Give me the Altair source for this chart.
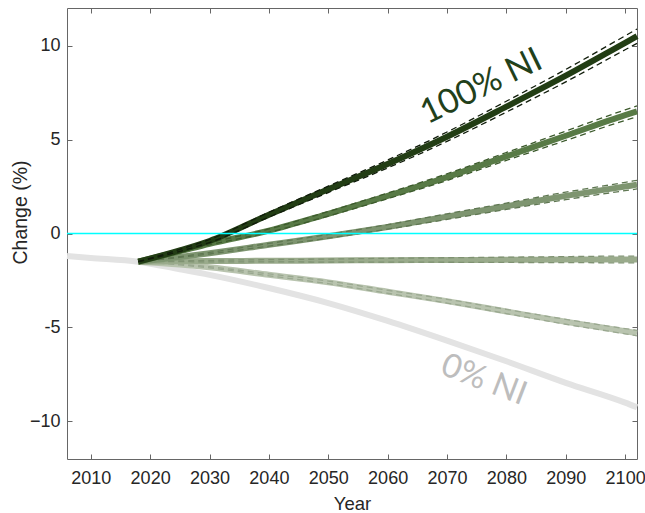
import altair as alt
import pandas as pd

# ---- data ----
years = [2018, 2025, 2030, 2040, 2050, 2060, 2070, 2080, 2090, 2100, 2102]
years_0 = [2006, 2010, 2018, 2025, 2030, 2040, 2050, 2060, 2070, 2080, 2090, 2100, 2102]

ni0 = [-1.2, -1.3, -1.5, -1.9, -2.2, -2.9, -3.7, -4.65, -5.7, -6.8, -7.95, -9.0, -9.25]

ni20 = [-1.5, -1.65, -1.8, -2.2, -2.6, -3.1, -3.6, -4.15, -4.7, -5.2, -5.3]
ni20_hi = [-1.5, -1.63, -1.77, -2.15, -2.53, -3.02, -3.5, -4.04, -4.57, -5.06, -5.15]
ni20_lo = [-1.5, -1.67, -1.83, -2.25, -2.67, -3.18, -3.7, -4.26, -4.83, -5.34, -5.45]

ni40 = [-1.5, -1.48, -1.47, -1.45, -1.44, -1.42, -1.41, -1.40, -1.39, -1.38, -1.38]
ni40_hi = [-1.5, -1.46, -1.43, -1.39, -1.36, -1.32, -1.29, -1.26, -1.23, -1.20, -1.20]
ni40_lo = [-1.5, -1.50, -1.51, -1.51, -1.52, -1.52, -1.53, -1.54, -1.55, -1.56, -1.56]

ni60 = [-1.5, -1.25, -1.05, -0.6, -0.15, 0.35, 0.9, 1.45, 2.0, 2.5, 2.6]
ni60_hi = [-1.5, -1.23, -1.01, -0.53, -0.05, 0.47, 1.05, 1.62, 2.2, 2.72, 2.83]
ni60_lo = [-1.5, -1.27, -1.09, -0.67, -0.25, 0.23, 0.75, 1.28, 1.8, 2.28, 2.37]

ni80 = [-1.5, -0.95, -0.55, 0.15, 1.05, 2.0, 3.0, 4.1, 5.2, 6.3, 6.5]
ni80_hi = [-1.5, -0.92, -0.50, 0.24, 1.17, 2.15, 3.18, 4.31, 5.45, 6.58, 6.79]
ni80_lo = [-1.5, -0.98, -0.60, 0.06, 0.93, 1.85, 2.82, 3.89, 4.95, 6.02, 6.21]

ni100 = [-1.5, -0.9, -0.4, 1.0, 2.35, 3.7, 5.15, 6.75, 8.4, 10.15, 10.5]
ni100_hi = [-1.5, -0.85, -0.32, 1.13, 2.52, 3.91, 5.40, 7.04, 8.73, 10.52, 10.88]
ni100_lo = [-1.5, -0.95, -0.48, 0.87, 2.18, 3.49, 4.90, 6.46, 8.07, 9.78, 10.12]

x_ticks = [2010, 2020, 2030, 2040, 2050, 2060, 2070, 2080, 2090, 2100]
y_ticks = [-10, -5, 0, 5, 10]

labels = ["100% NI", "0% NI"]
label_years = [2075.8, 2076.2]
label_values = [7.8, -7.8]

main_colors = ["#e3e3e3", "#b9c4af", "#9aab8c", "#7e9570", "#587a46", "#223d14"]
dash_colors = ["#9aa890", "#7f9272", "#5f7752", "#3c5a2c", "#101c0a"]

# ---- chart ----
xscale = alt.Scale(domain=[2006, 2102], nice=False, zero=False)
yscale = alt.Scale(domain=[-12, 12], nice=False, zero=False)

FONT = "Liberation Sans"

x_axis = alt.Axis(orient="bottom", values=x_ticks, format="d", offset=-5, tickSize=5,
                  domain=False, labelPadding=10, labelFontSize=18, title="Year",
                  titleFontSize=18.5, titleY=49, titleBaseline="middle")
y_axis = alt.Axis(orient="left", values=y_ticks, offset=-5, tickSize=5, domain=False,
                  labelPadding=7, labelFontSize=18, title="Change (%)",
                  titleFontSize=19.5, titleX=-52, titleY=204, titleBaseline="middle",
                  titleAngle=270, titleAlign="center",
                  labelExpr="datum.value == -5 ? '-5' : datum.label")
x_axis_top = alt.Axis(orient="top", values=x_ticks, offset=-5, tickSize=5, domain=False,
                      labels=False, title=None)
y_axis_right = alt.Axis(orient="right", values=y_ticks, offset=-5, tickSize=5, domain=False,
                        labels=False, title=None)


def frame(xs, vs):
    return pd.DataFrame({"year": xs, "value": vs})


layers = []

# gray 0% line (carries the main axes)
layers.append(
    alt.Chart(frame(years_0, ni0)).mark_line(color=main_colors[0], strokeWidth=6, interpolate="monotone")
    .encode(x=alt.X("year:Q", scale=xscale, axis=x_axis),
            y=alt.Y("value:Q", scale=yscale, axis=y_axis))
)

series = [
    (ni20, ni20_hi, ni20_lo),
    (ni40, ni40_hi, ni40_lo),
    (ni60, ni60_hi, ni60_lo),
    (ni80, ni80_hi, ni80_lo),
    (ni100, ni100_hi, ni100_lo),
]

for i, (mid, hi, lo) in enumerate(series):
    layers.append(
        alt.Chart(frame(years, mid)).mark_line(color=main_colors[i + 1], strokeWidth=6,
                                               interpolate="monotone")
        .encode(x=alt.X("year:Q", scale=xscale, axis=None),
                y=alt.Y("value:Q", scale=yscale, axis=None))
    )
    for band in (hi, lo):
        layers.append(
            alt.Chart(frame(years, band)).mark_line(color=dash_colors[i], strokeWidth=1.3,
                                                    strokeDash=[6, 4], interpolate="monotone")
            .encode(x=alt.X("year:Q", scale=xscale, axis=None),
                    y=alt.Y("value:Q", scale=yscale, axis=None))
        )

# cyan zero line
layers.append(
    alt.Chart(pd.DataFrame({"value": [0]})).mark_rule(color="#00ffff", strokeWidth=1.5)
    .encode(y=alt.Y("value:Q", scale=yscale, axis=None))
)

# labels
lab = pd.DataFrame({"label": labels, "year": label_years, "value": label_values})
layers.append(
    alt.Chart(lab.iloc[[0]]).mark_text(angle=334, fontSize=34, font="Lato", color="#22401a")
    .encode(x=alt.X("year:Q", scale=xscale, axis=None),
            y=alt.Y("value:Q", scale=yscale, axis=None), text="label:N")
)
layers.append(
    alt.Chart(lab.iloc[[1]]).mark_text(angle=21, fontSize=33, font="Lato", color="#bdbdbd")
    .encode(x=alt.X("year:Q", scale=xscale, axis=None),
            y=alt.Y("value:Q", scale=yscale, axis=None), text="label:N")
)

# mirrored ticks on top / right
layers.append(
    alt.Chart(frame(years_0, ni0)).mark_line(opacity=0)
    .encode(x=alt.X("year:Q", scale=xscale, axis=x_axis_top),
            y=alt.Y("value:Q", scale=yscale, axis=y_axis_right))
)

chart = (
    alt.layer(*layers)
    .resolve_axis(x="independent", y="independent")
    .properties(width=570, height=451,
                autosize=alt.AutoSizeParams(type="none"),
                padding={"left": 67, "top": 8, "right": 8, "bottom": 54})
    .configure_view(stroke="#666666", strokeWidth=1)
    .configure_axis(tickColor="#666666", labelColor="#262626", titleColor="#262626",
                    labelFont=FONT, titleFont=FONT, grid=False, titleFontWeight="normal")
)

chart.save("out.html", embed_options={"renderer": "svg", "actions": False})
